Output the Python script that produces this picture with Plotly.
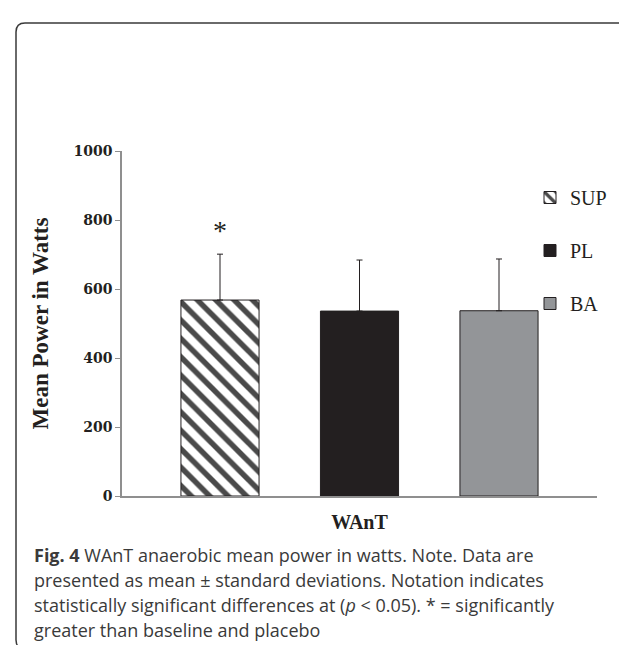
import plotly.graph_objects as go

# ---- data ----
groups = ["SUP", "PL", "BA"]
means = [568, 536, 537]
sds = [133, 148, 150]
x_title = "WAnT"
y_title = "Mean Power in Watts"
y_ticks = [0, 200, 400, 600, 800, 1000]
sig_marks = ["*", "", ""]
caption_lines = [
    "<b>Fig. 4</b> WAnT anaerobic mean power in watts. Note. Data are",
    "presented as mean \u00b1 standard deviations. Notation indicates",
    "statistically significant differences at (<i>p</i> &lt; 0.05). * = significantly",
    "greater than baseline and placebo",
]

W, H = 627, 645
L, R, T, B = 114, 589, 143, 488  # plot area in px


def px(xp):
    return (xp - L) / (R - L)


def py(yp):
    return (B - yp) / (B - T)


fills = ["white", "#231f20", "#939598"]
dark = "#231f20"

fig = go.Figure()
for i, g in enumerate(groups):
    marker = dict(color=fills[i], line=dict(color=dark, width=1))
    if g == "SUP":
        marker["pattern"] = dict(shape="\\", fgcolor="#4a4a4a", bgcolor="white",
                                 size=13, solidity=0.42, fillmode="overlay", fgopacity=1)
    fig.add_trace(go.Bar(
        x=[i], y=[means[i]], name=g, width=0.56, marker=marker,
        legendgroup=g,
        error_y=dict(type="data", symmetric=False, array=[sds[i]], arrayminus=[0],
                     color=dark, thickness=1, width=3),
    ))

for i, m in enumerate(sig_marks):
    if m:
        fig.add_annotation(x=i, y=means[i] + sds[i], yshift=24, text=m, showarrow=False,
                           font=dict(family="Liberation Serif", size=28, color=dark))

for k, line in enumerate(caption_lines):
    fig.add_annotation(
        xref="paper", yref="paper", x=px(24), y=py(547 + 25 * k), xanchor="left",
        yanchor="middle", align="left", showarrow=False, text=line,
        font=dict(family="Open Sans", size=18, color="#3a3a3a"),
    )

# rounded frame
x0, x1, y0, y1 = px(8), px(626), py(15), py(641)
rx, ry = 9 / (R - L), 9 / (B - T)
path = (f"M {x0+rx},{y0} L {x1-rx},{y0} Q {x1},{y0} {x1},{y0-ry} "
        f"L {x1},{y1+ry} Q {x1},{y1} {x1-rx},{y1} L {x0+rx},{y1} "
        f"Q {x0},{y1} {x0},{y1+ry} L {x0},{y0-ry} Q {x0},{y0} {x0+rx},{y0} Z")
fig.add_shape(type="path", xref="paper", yref="paper", path=path,
              line=dict(color="#3a3a3a", width=1.5), layer="below")

fig.update_layout(
    width=W, height=H,
    margin=dict(l=L, r=W - R, t=T, b=H - B, autoexpand=False),
    paper_bgcolor="white", plot_bgcolor="white",
    barmode="overlay",
    showlegend=True,
    legend=dict(x=px(522), y=py(170), xanchor="left", yanchor="top",
                font=dict(family="Liberation Serif", size=20, color=dark),
                tracegroupgap=24, itemwidth=30, bgcolor="rgba(0,0,0,0)"),
    xaxis=dict(range=[-0.7025, 2.7025], showticklabels=False, ticks="",
               showgrid=False, zeroline=False, showline=True,
               linecolor="#8f8f8f", linewidth=1.5,
               title=dict(text=x_title, standoff=18,
                          font=dict(family="Liberation Serif", size=20, color=dark, weight="bold"))),
    yaxis=dict(range=[0, 1000], tickvals=y_ticks, ticks="outside", ticklen=5,
               tickcolor="#8f8f8f", showgrid=False, zeroline=False, showline=True,
               linecolor="#8f8f8f", linewidth=1.5,
               tickfont=dict(family="DejaVu Serif", size=14, color=dark, weight="bold"),
               title=dict(text=y_title, standoff=18,
                          font=dict(family="Liberation Serif", size=23, color=dark, weight="bold"))),
)

fig.write_html("out.html")
